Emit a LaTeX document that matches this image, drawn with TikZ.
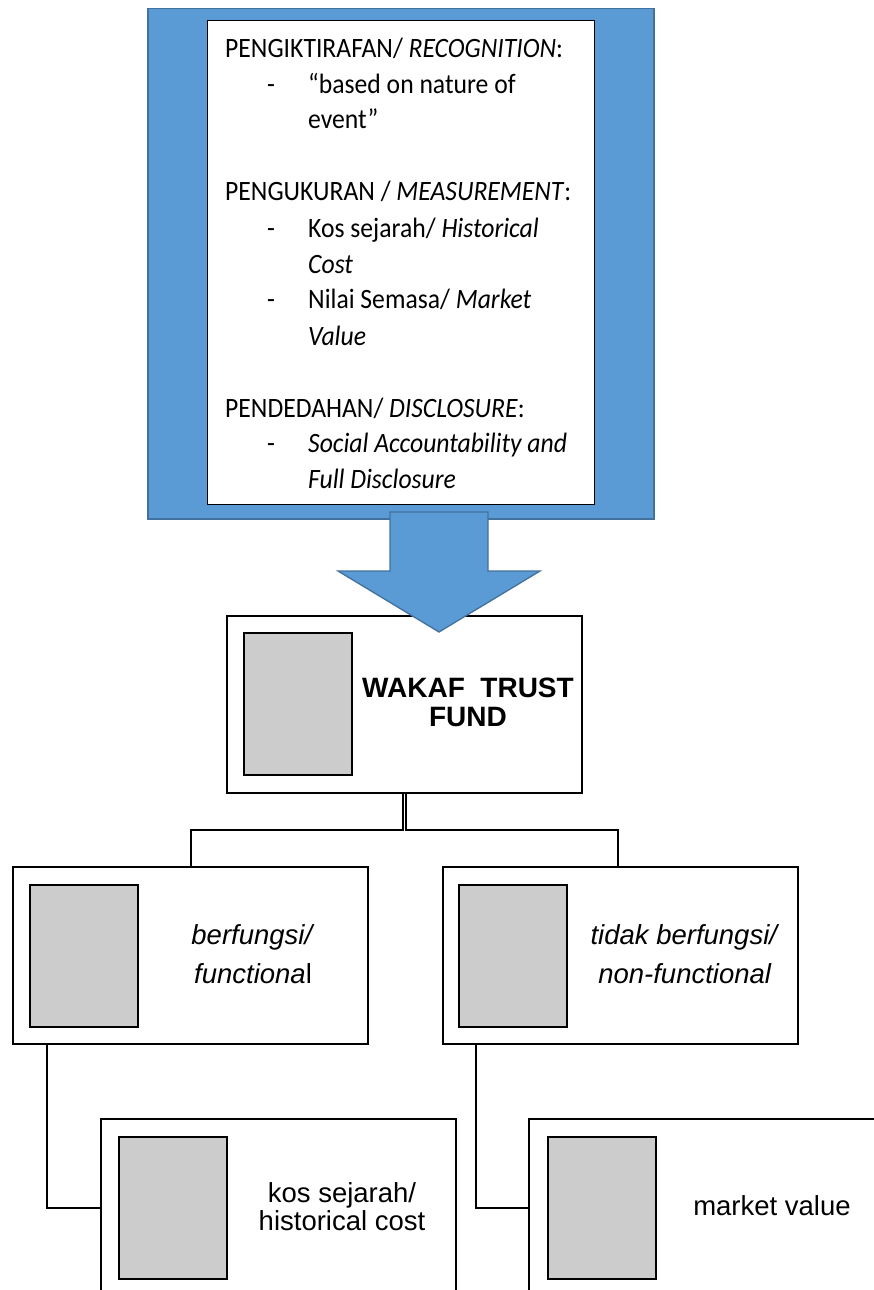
\documentclass[tikz,border=0pt]{standalone}
\usepackage{fontspec}
\setmainfont{Carlito}[FakeStretch=0.916]
\newfontfamily\arialfont{Liberation Sans}
\definecolor{blockblue}{HTML}{5B9BD5}
\definecolor{blockedge}{HTML}{41719C}
\definecolor{photogrey}{HTML}{CCCCCC}

\begin{document}
\begin{tikzpicture}[x=1pt,y=-1pt,
  panel/.style={draw=blockedge, fill=blockblue, line width=1.5pt, anchor=north west,
    minimum width=506pt, minimum height=510pt, inner sep=0pt},
  sheet/.style={draw=black, fill=white, line width=1.3pt, anchor=north west,
    minimum width=387pt, minimum height=484pt, inner sep=0pt},
  card/.style={draw=black, fill=white, line width=2pt, anchor=north west,
    minimum width=355pt, minimum height=177pt, inner sep=0pt},
  photo/.style={draw=black, fill=photogrey, line width=2.3pt, anchor=north west,
    minimum width=108pt, minimum height=142pt, inner sep=0pt},
  link/.style={draw=black, line width=2pt},
  line/.style={anchor=base west, inner sep=0pt, font=\fontsize{28}{34}\selectfont},
  bullet/.style={anchor=base west, inner sep=0pt, font=\fontsize{28}{34}\selectfont},
  title/.style={anchor=base, inner sep=0pt, font=\arialfont\bfseries\fontsize{28}{30}\selectfont},
  caption/.style={anchor=base, inner sep=0pt, font=\arialfont\fontsize{27.5}{30}\selectfont},
]
\useasboundingbox (0,0) rectangle (873,1290);

% standards panel
\node[panel] (panel) at (147,8) {};
\node[sheet] (sheet) at (207,20) {};

\node[line] (rec)    at (225,58)  {PENGIKTIRAFAN/ \textit{RECOGNITION}:};
\node[bullet] (d1)   at (267,93)  {-};
\node[line] (rec1)   at (308,93)  {“based on nature of};
\node[line] (rec2)   at (308,128) {event”};
\node[line] (meas)   at (225,200) {PENGUKURAN / \textit{MEASUREMENT}:};
\node[bullet] (d2)   at (267,237) {-};
\node[line] (meas1)  at (308,237) {Kos sejarah/ \textit{Historical}};
\node[line] (meas2)  at (308,273) {\textit{Cost}};
\node[bullet] (d3)   at (267,308) {-};
\node[line] (meas3)  at (308,308) {Nilai Semasa/ \textit{Market}};
\node[line] (meas4)  at (308,345) {\textit{Value}};
\node[line] (disc)   at (225,417) {PENDEDAHAN/ \textit{DISCLOSURE}:};
\node[bullet] (d4)   at (267,452) {-};
\node[line] (disc1)  at (308,452) {\textit{Social Accountability and}};
\node[line] (disc2)  at (308,488) {\textit{Full Disclosure}};

% hierarchy boxes
\node[card] (fund) at (226,615) {};
\node[photo] (fundpic) at (243,632) {};
\node[title] (fundt1) at (468,697) {WAKAF\ \ TRUST};
\node[title] (fundt2) at (468,726) {FUND};

\node[card] (func) at (12,866) {};
\node[photo] (funcpic) at (29,884) {};
\node[caption] (funct1) at (253,944) {\textit{berfungsi/}};
\node[caption] (funct2) at (253,983) {\textit{functiona}l};

\node[card] (nonf) at (442,866) {};
\node[photo] (nonfpic) at (458,884) {};
\node[caption] (nonft1) at (685,944) {\textit{tidak berfungsi/}};
\node[caption] (nonft2) at (685,983) {\textit{non-functional}};

\node[card] (hist) at (100,1118) {};
\node[photo] (histpic) at (118,1136) {};
\node[caption] (histt1) at (342,1202) {kos sejarah/};
\node[caption] (histt2) at (342,1230) {historical cost};

\node[card] (mkt) at (528,1118) {};
\node[photo] (mktpic) at (547,1136) {};
\node[caption] (mktt) at (772,1215) {market value};

% block arrow from the panel down to the fund box
\coordinate (arrL) at (390,512);
\coordinate (arrR) at (488,512);
\coordinate (tip) at (439,632);
\draw[fill=blockblue, draw=blockedge, line width=1.3pt]
  (arrL) -- (arrR) -- (488,571) -- (540,571) -- (tip) -- (338,571) -- (390,571) -- cycle;

% connectors
\draw[link] ([xshift=-1.5pt]fund.south) -- ++(0,36) -| (func.north);
\draw[link] ([xshift=1.5pt]fund.south) -- ++(0,36) -| ([xshift=-3pt]nonf.north);
\draw[link] ([xshift=35pt]func.south west) |- (hist.west);
\draw[link] ([xshift=34pt]nonf.south west) |- (mkt.west);
\end{tikzpicture}
\end{document}
